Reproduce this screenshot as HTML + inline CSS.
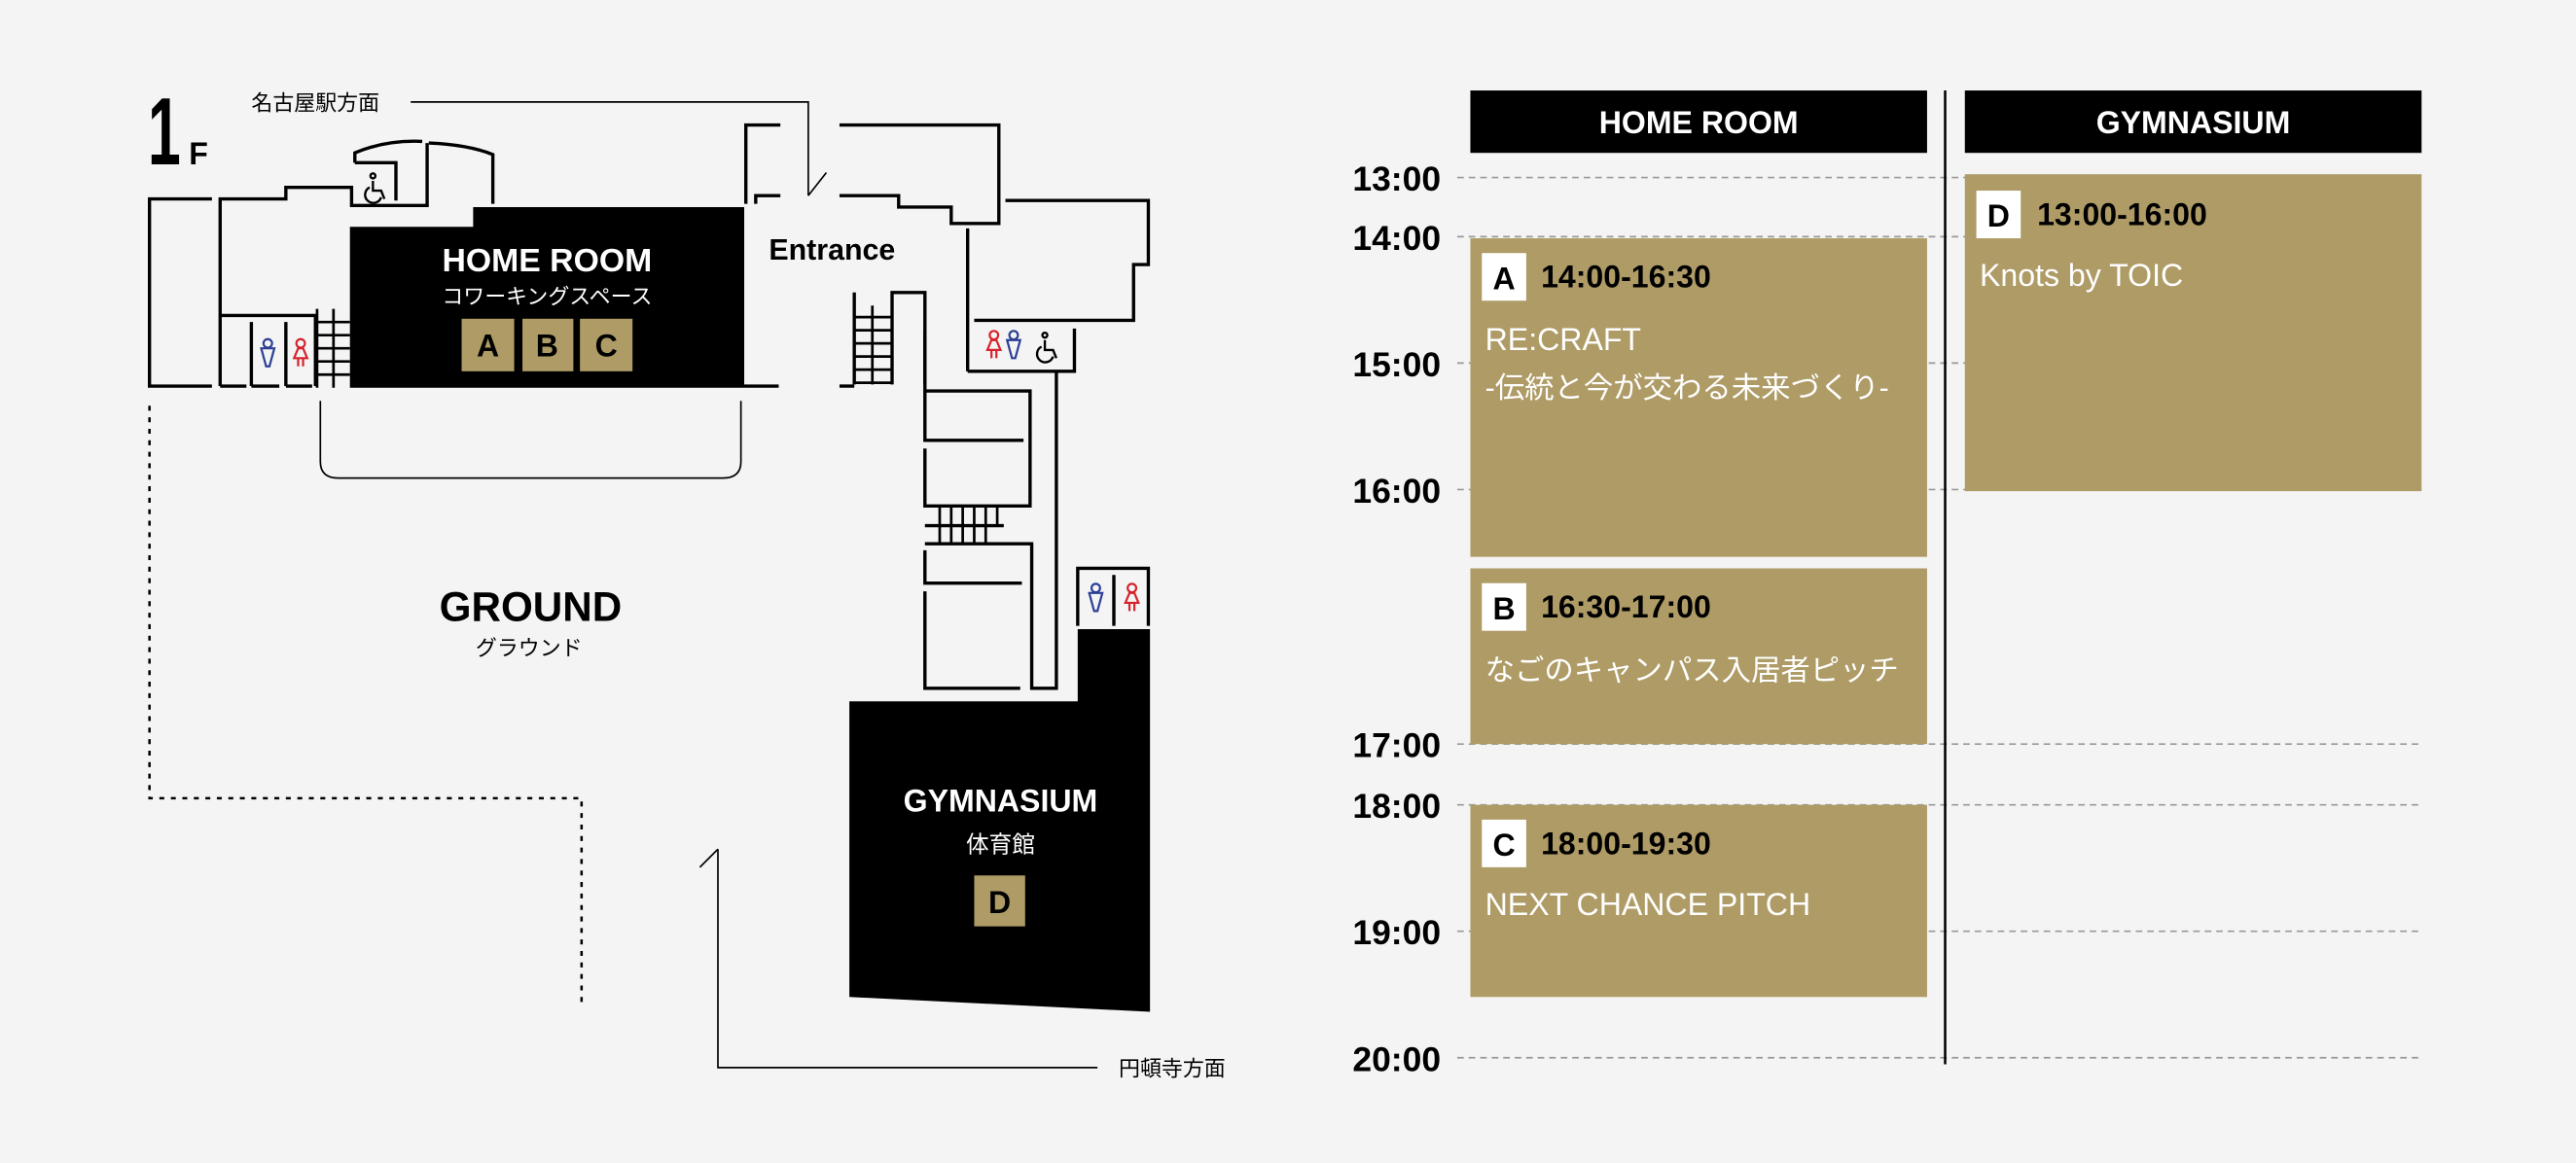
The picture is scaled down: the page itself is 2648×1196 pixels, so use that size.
<!DOCTYPE html>
<html><head><meta charset="utf-8"><style>
html,body{margin:0;padding:0;background:#f4f4f4;}
svg{display:block;}
text{font-family:"Liberation Sans","Noto Sans CJK JP",sans-serif;}
</style></head><body>
<svg width="2648" height="1196" viewBox="0 0 1568 708" xmlns="http://www.w3.org/2000/svg">
<defs>
<g id="man" fill="none" stroke="#2b3f95" stroke-width="1.3"><circle cx="0" cy="-6" r="2.6"/><path d="M-4,-3 H4 L1,8 H-1 Z"/></g>
<g id="woman" fill="none" stroke="#d6222b" stroke-width="1.3"><circle cx="0" cy="-6" r="2.6"/><path d="M-1.5,-3 H1.5 L4,3 H-4 Z M-1.5,3 V8 M1.5,3 V8"/></g>
<g id="wc" fill="none" stroke="#000" stroke-width="1.4"><circle cx="-1" cy="-8" r="1.5"/><path d="M-1,-5 V1 H4 L6,6 M-3,-1 A5,5 0 1 0 4,5"/></g>
</defs>
<rect width="1568" height="708" fill="#f4f4f4"/>
<!-- ===== MAP ===== -->
<g fill="none" stroke="#000" stroke-width="2">
<polyline points="129,121 91,121 91,235 129,235"/>
<polyline points="134,235 134,121 174,121 174,114 214,114 214,125 260,125 260,87"/>
<path d="M216,99 V93 Q235,85 257,86"/>
<path d="M261,87 Q285,88 300,94 V124"/>
<polyline points="216,99 241,99 241,122"/>
<polyline points="134,192 192,192 192,235"/>
<line x1="153" y1="196" x2="153" y2="235"/><line x1="174" y1="196" x2="174" y2="235"/>
<line x1="134" y1="235" x2="150" y2="235"/><line x1="153" y1="235" x2="170" y2="235"/><line x1="174" y1="235" x2="190" y2="235"/>
<line x1="453" y1="235" x2="474" y2="235"/>
<polyline points="454,124 454,76 475,76"/>
<polyline points="460,124 460,119 475,119"/>
<polyline points="511,76 608,76 608,136 579,136 579,126 547,126 547,119 511,119"/>
<polyline points="612,122 699,122 699,161 690,161 690,195 593,195"/>
<line x1="589" y1="139" x2="589" y2="226"/>
<polyline points="589,226 654,226 654,200"/>
<polyline points="643,226 643,419 628,419 628,331 563,331"/>
<polyline points="511,235 520,235"/>
<line x1="520" y1="178" x2="520" y2="234"/>
<polyline points="543,234 543,178 563,178 563,234"/>
<polyline points="563,201 563,268 623,268"/>
<polyline points="563,273 563,308 627,308 627,238 563,238"/>
<line x1="563" y1="320" x2="611" y2="320"/>
<polyline points="563,335 563,355 622,355"/>
<polyline points="563,360 563,419 621,419"/>
<polyline points="656,381 656,346 699,346 699,381"/>
<line x1="678" y1="350" x2="678" y2="381"/>
</g>
<!-- stairs -->
<g stroke="#000" stroke-width="1.6" fill="none">
<line x1="193" y1="188" x2="193" y2="236"/><line x1="203" y1="188" x2="203" y2="236"/>
<line x1="193" y1="196" x2="213" y2="196"/><line x1="193" y1="204" x2="213" y2="204"/><line x1="193" y1="212" x2="213" y2="212"/><line x1="193" y1="220" x2="213" y2="220"/><line x1="193" y1="228" x2="213" y2="228"/>
<line x1="531" y1="186" x2="531" y2="234"/>
<line x1="520" y1="193" x2="543" y2="193"/><line x1="520" y1="201" x2="543" y2="201"/><line x1="520" y1="209" x2="543" y2="209"/><line x1="520" y1="217" x2="543" y2="217"/><line x1="520" y1="225" x2="543" y2="225"/><line x1="520" y1="233" x2="543" y2="233"/>
<line x1="572" y1="308" x2="572" y2="331"/><line x1="579" y1="308" x2="579" y2="331"/><line x1="586" y1="308" x2="586" y2="331"/><line x1="593" y1="308" x2="593" y2="331"/><line x1="600" y1="308" x2="600" y2="331"/><line x1="607" y1="308" x2="607" y2="320"/>
<path d="M195,244 V281 Q195,291 206,291 H440 Q451,291 451,281 V244" stroke-width="1"/>
</g>
<!-- home room block -->
<polygon points="213,138 288,138 288,126 453,126 453,236 213,236" fill="#000"/>
<text x="333" y="165" font-size="20" font-weight="bold" fill="#fff" text-anchor="middle">HOME ROOM</text>
<text x="333" y="185" font-size="13" fill="#fff" text-anchor="middle">コワーキングスペース</text>
<g fill="#ae9b66"><rect x="281" y="194" width="32" height="32"/><rect x="318" y="194" width="31" height="32"/><rect x="353" y="194" width="32" height="32"/></g>
<g font-size="19" font-weight="bold" fill="#000" text-anchor="middle"><text x="297" y="217">A</text><text x="333" y="217">B</text><text x="369" y="217">C</text></g>
<text x="468" y="158" font-size="18" font-weight="bold" fill="#000">Entrance</text>
<!-- 1F -->
<text x="90" y="100" font-size="58" font-weight="bold" fill="#000" textLength="20" lengthAdjust="spacingAndGlyphs">1</text>
<text x="115" y="100" font-size="19" font-weight="bold" fill="#000">F</text>
<!-- icons -->
<use href="#man" x="163" y="215"/><use href="#woman" x="183" y="215"/>
<use href="#woman" x="605" y="210"/><use href="#man" x="617" y="210"/><use href="#wc" x="637" y="212"/>
<use href="#wc" x="228" y="115"/>
<use href="#man" x="667" y="364"/><use href="#woman" x="689" y="364"/>
<!-- direction lines -->
<g stroke="#000" stroke-width="1" fill="none">
<polyline points="250,62 492,62 492,119"/>
<line x1="503" y1="105" x2="492" y2="119"/>
<polyline points="437,517 437,650 668,650"/>
<line x1="437" y1="517" x2="426" y2="528"/>
</g>
<text x="153" y="67" font-size="13" fill="#000">名古屋駅方面</text>
<text x="681" y="655" font-size="13" fill="#000">円頓寺方面</text>
<!-- dotted ground -->
<polyline points="91,247 91,486 354,486 354,611" fill="none" stroke="#000" stroke-width="1.5" stroke-dasharray="3,4"/>
<text x="323" y="378" font-size="25" font-weight="bold" fill="#000" text-anchor="middle">GROUND</text>
<text x="322" y="399" font-size="13" fill="#000" text-anchor="middle">グラウンド</text>
<!-- gym -->
<polygon points="517,427 656,427 656,383 700,383 700,616 517,607" fill="#000"/>
<text x="609" y="494" font-size="19" font-weight="bold" fill="#fff" text-anchor="middle">GYMNASIUM</text>
<text x="609" y="519" font-size="14" fill="#fff" text-anchor="middle">体育館</text>
<rect x="593" y="533" width="31" height="31" fill="#ae9b66"/>
<text x="608.5" y="556" font-size="19" font-weight="bold" fill="#000" text-anchor="middle">D</text>
<!-- ===== SCHEDULE ===== -->
<g stroke="#999" stroke-width="1" stroke-dasharray="4,3">
<line x1="887" y1="108" x2="1474" y2="108"/><line x1="887" y1="144" x2="1474" y2="144"/>
<line x1="887" y1="221" x2="1474" y2="221"/><line x1="887" y1="298" x2="1474" y2="298"/>
<line x1="887" y1="453" x2="1474" y2="453"/><line x1="887" y1="490" x2="1474" y2="490"/>
<line x1="887" y1="567" x2="1474" y2="567"/><line x1="887" y1="644" x2="1474" y2="644"/>
</g>
<g font-size="21" font-weight="bold" fill="#000" text-anchor="end">
<text x="877" y="116">13:00</text><text x="877" y="152">14:00</text><text x="877" y="229">15:00</text><text x="877" y="306">16:00</text>
<text x="877" y="461">17:00</text><text x="877" y="498">18:00</text><text x="877" y="575">19:00</text><text x="877" y="652">20:00</text>
</g>
<rect x="895" y="55" width="278" height="38" fill="#000"/>
<rect x="1196" y="55" width="278" height="38" fill="#000"/>
<text x="1034" y="81" font-size="19" font-weight="bold" fill="#fff" text-anchor="middle">HOME ROOM</text>
<text x="1335" y="81" font-size="19" font-weight="bold" fill="#fff" text-anchor="middle">GYMNASIUM</text>
<line x1="1184" y1="55" x2="1184" y2="648" stroke="#000" stroke-width="1.5"/>
<g fill="#ae9b66">
<rect x="895" y="145" width="278" height="194"/><rect x="895" y="346" width="278" height="107"/>
<rect x="895" y="490" width="278" height="117"/><rect x="1196" y="106" width="278" height="193"/>
</g>
<g fill="#fff"><rect x="902" y="154" width="27" height="29"/><rect x="902" y="355" width="27" height="29"/><rect x="902" y="499" width="27" height="29"/><rect x="1203" y="116" width="27" height="29"/></g>
<g font-size="19" font-weight="bold" fill="#000">
<text x="915.5" y="176" text-anchor="middle">A</text><text x="938" y="175">14:00-16:30</text>
<text x="915.5" y="377" text-anchor="middle">B</text><text x="938" y="376">16:30-17:00</text>
<text x="915.5" y="521" text-anchor="middle">C</text><text x="938" y="520">18:00-19:30</text>
<text x="1216.5" y="138" text-anchor="middle">D</text><text x="1240" y="137">13:00-16:00</text>
</g>
<g font-size="19" fill="#fff">
<text x="904" y="213">RE:CRAFT</text>
<text x="904" y="242" font-size="18">-伝統と今が交わる未来づくり-</text>
<text x="904" y="414" font-size="18">なごのキャンパス入居者ピッチ</text>
<text x="904" y="557">NEXT CHANCE PITCH</text>
<text x="1205" y="174">Knots by TOIC</text>
</g>
</svg>
</body></html>
